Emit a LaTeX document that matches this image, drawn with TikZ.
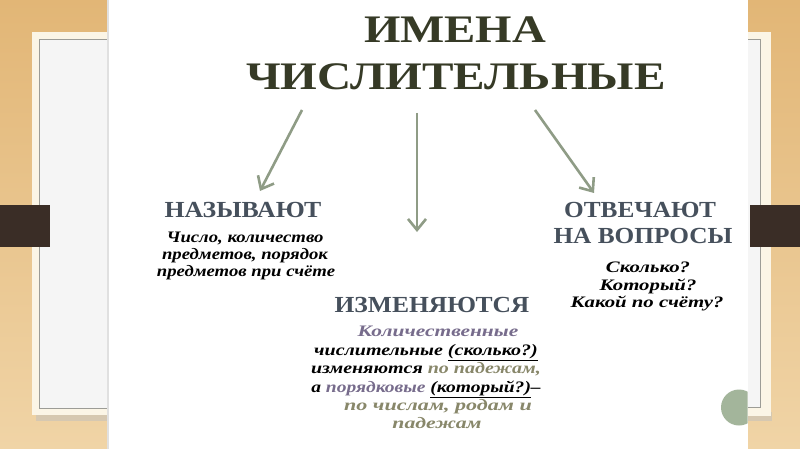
\documentclass[tikz,border=0pt]{standalone}
\usepackage{fontspec}
\usepackage{graphicx}
\setmainfont{Liberation Serif}
\usetikzlibrary{arrows.meta}
\definecolor{bgtan}{HTML}{E2B676}
\definecolor{bgtanlight}{HTML}{F0D4A6}
\definecolor{cream}{HTML}{FBF5E6}
\definecolor{panelgray}{HTML}{9C9C96}
\definecolor{barbrown}{HTML}{3A2D26}
\definecolor{titlec}{HTML}{363A26}
\definecolor{headc}{HTML}{46505C}
\definecolor{arrowc}{HTML}{8F9C86}
\definecolor{purplec}{HTML}{776C8C}
\definecolor{olivec}{HTML}{88876A}
\definecolor{dotc}{HTML}{A3B59B}
\newcommand{\xw}[2]{\scalebox{#1}[1]{#2}}
\begin{document}
\begin{tikzpicture}[x=1pt,y=-1pt,
  titlet/.style={font=\fontsize{39}{39}\selectfont\bfseries, text=titlec, anchor=base, inner sep=0pt},
  headt/.style={font=\fontsize{23}{23}\selectfont\bfseries, text=headc, anchor=base, inner sep=0pt},
  bodyt/.style={font=\fontsize{16}{16}\selectfont\bfseries\itshape, text=black, anchor=base, inner sep=0pt},
  conn/.style={draw=arrowc, line width=2.6pt, -{Straight Barb[length=11pt,width=18pt,line width=2.6pt]}}]
\useasboundingbox (0,0) rectangle (800,449);
% background
\shade[top color=bgtan, bottom color=bgtanlight] (0,0) rectangle (800,449);
% left panel
\fill[black!25, opacity=0.5] (36,412) rectangle (110,421);
\fill[cream] (32,32) rectangle (110,415);
\filldraw[fill=white!96!black, draw=panelgray, line width=0.8pt] (39,39) rectangle (115,408);
% right panel
\fill[black!25, opacity=0.5] (745,412) rectangle (772,421);
\fill[cream] (740,32) rectangle (771,416);
\filldraw[fill=white!96!black, draw=panelgray, line width=0.8pt] (735,39) rectangle (760,407);
% central slide
\fill[white] (107,0) rectangle (748,449);
\draw[black!12, line width=1.2pt] (108,0) -- (108,449);
% dark bars
\fill[barbrown] (0,205) rectangle (50,247);
\fill[barbrown] (750,205) rectangle (800,247);
% dot
\begin{scope}
\clip (700,380) rectangle (747.5,440);
\fill[dotc] (739,407.5) circle (18);
\end{scope}
% title
\node[titlet] (t1) at (455,43) {\xw{1.2}{ИМЕНА}};
\node[titlet] (t2) at (456,90) {\xw{1.21}{ЧИСЛИТЕЛЬНЫЕ}};
% arrows
\coordinate (a1s) at (302,110);
\coordinate (a1e) at (260,191);
\coordinate (a2s) at (417,113);
\coordinate (a2e) at (417,232);
\coordinate (a3s) at (535,110);
\coordinate (a3e) at (594,193);
\draw[conn] (a1s) -- (a1e);
\draw[conn] (a2s) -- (a2e);
\draw[conn] (a3s) -- (a3e);
% left block
\node[headt] (h1) at (243,218) {\xw{1.12}{НАЗЫВАЮТ}};
\node[bodyt] (l1) at (245,242) {\xw{1.17}{Число, количество}};
\node[bodyt] (l2) at (245,259) {\xw{1.17}{предметов, порядок}};
\node[bodyt] (l3) at (246,276) {\xw{1.17}{предметов при счёте}};
% right block
\node[headt] (h3a) at (640,218) {\xw{1.1}{ОТВЕЧАЮТ}};
\node[headt] (h3b) at (643,243) {\xw{1.1}{НА ВОПРОСЫ}};
\node[bodyt] (r1) at (648,272) {\xw{1.3}{Сколько?}};
\node[bodyt] (r2) at (648,290) {\xw{1.3}{Который?}};
\node[bodyt] (r3) at (647,307) {\xw{1.3}{Какой по счёту?}};
% middle block
\node[headt] (h2) at (432,312) {\xw{1.11}{ИЗМЕНЯЮТСЯ}};
\node[bodyt, text=purplec] (m1) at (438,336) {\xw{1.34}{Количественные}};
\node[bodyt] (m2) at (426,355) {\xw{1.25}{числительные \underline{(сколько?)}}};
\node[bodyt] (m3) at (426,373) {\xw{1.25}{изменяются \textcolor{olivec}{по падежам,}}};
\node[bodyt] (m4) at (426,392) {\xw{1.22}{а \textcolor{purplec}{порядковые} \underline{(который?)}–}};
\node[bodyt, text=olivec] (m5) at (438,410) {\xw{1.38}{по числам, родам и}};
\node[bodyt, text=olivec] (m6) at (437,428) {\xw{1.36}{падежам}};
\end{tikzpicture}
\end{document}
